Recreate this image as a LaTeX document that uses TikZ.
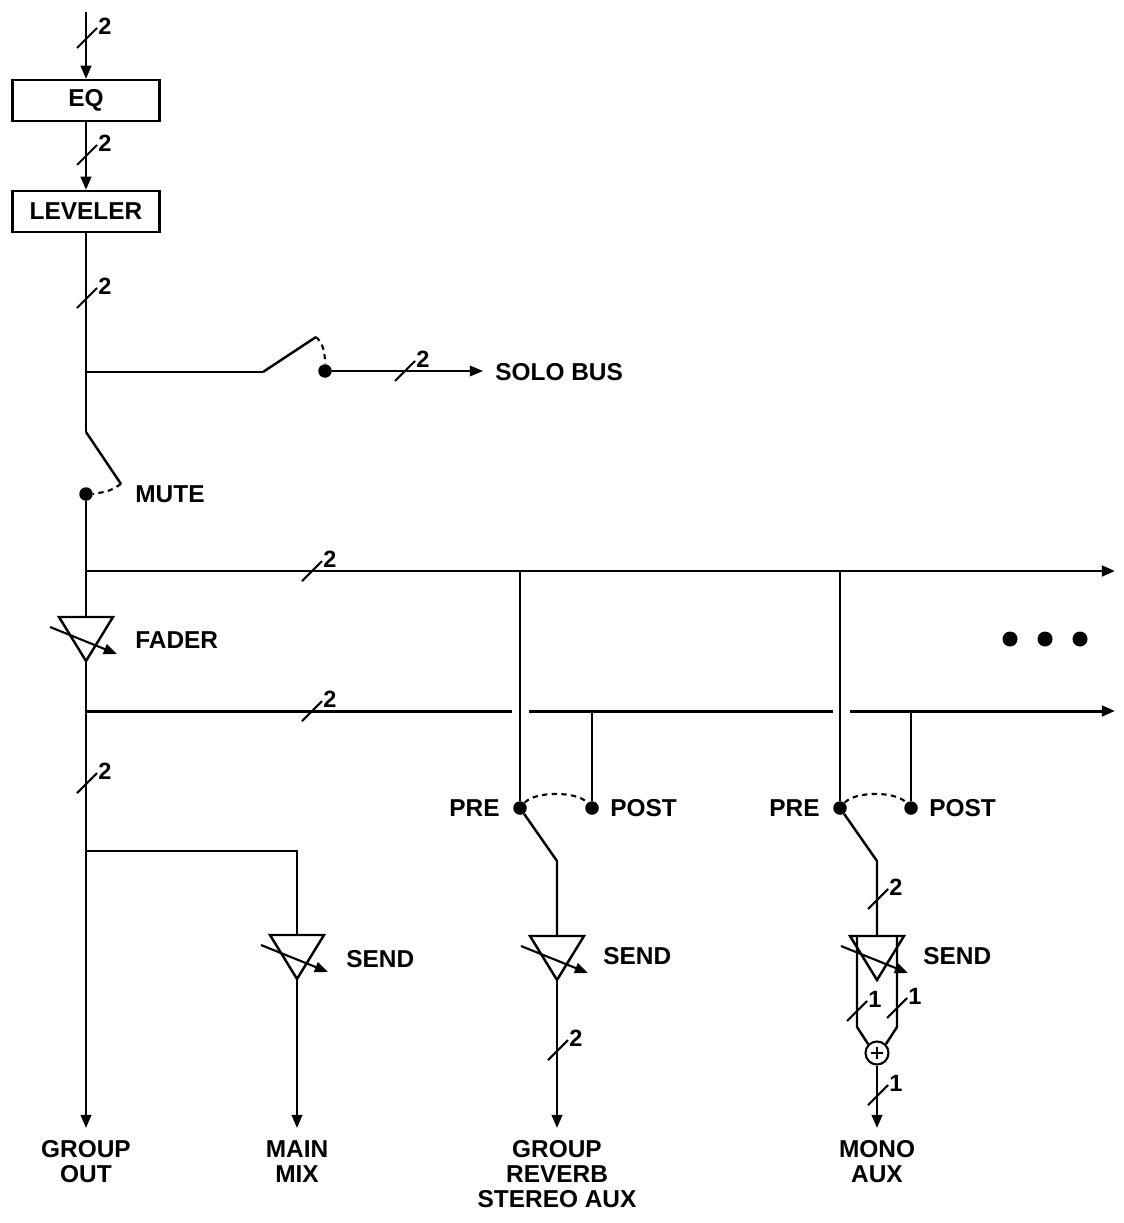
\documentclass[tikz,border=0pt]{standalone}
\usepackage{fontspec}
\setmainfont{Liberation Sans}
\usetikzlibrary{arrows.meta}
\newcommand\lblfont{\bfseries\fontsize{13.9}{14.3}\selectfont}
\newcommand\numfont{\bfseries\fontsize{13.4}{13.6}\selectfont}
\begin{document}
\begin{tikzpicture}[x=0.02cm,y=-0.02cm,
  wire/.style={line width=1.4pt},
  thin/.style={line width=1.1pt},
  bus/.style={line width=1.7pt},
  arr/.style={-{Triangle[length=7.5pt,width=6pt]}},
  blk/.style={draw,line width=1.3pt,minimum width=2.94cm,minimum height=0.82cm,inner sep=0pt,font=\lblfont},
  dot/.style={circle,fill,inner sep=0pt,minimum size=0.27cm},
  bigdot/.style={circle,fill,inner sep=0pt,minimum size=0.3cm},
  lbl/.style={font=\lblfont,inner sep=0pt},
  num/.style={font=\numfont,inner sep=0pt},
  dsh/.style={line width=1.2pt,dash pattern=on 3pt off 2.5pt},
  bm/.pic={\draw[line width=1.2pt] (-10,10) -- (10,-10); \node[num] at (18,-12) {#1};},
  vamp/.pic={
     \draw[wire,line join=miter] (-27,0) -- (27,0) -- (0,44) -- cycle;
     \draw[line width=1.2pt,-{Triangle[length=7.5pt,width=6pt]}] (-36,10) -- (31,37);
     \coordinate (-in) at (0,0); \coordinate (-out) at (0,44);}
]
\useasboundingbox (0,0) rectangle (1124,1223);

% ---- input, EQ, leveler
\coordinate (in) at (86,12);
\node[blk] (eq) at (86,100.5) {EQ};
\node[blk] (lev) at (86,211.5) {LEVELER};
\draw[wire,arr] (in) -- (eq.north);
\pic at (87,38) {bm=2};
\draw[wire,arr] (eq.south) -- (lev.north);
\pic at (87,155) {bm=2};

% ---- solo and mute
\coordinate (soloj) at (86,372);
\coordinate (mutetop) at (86,432);
\draw[wire] (lev.south) -- (mutetop);
\pic at (87,298) {bm=2};

\coordinate (soloa) at (263,372);
\coordinate (solob) at (316,337);
\node[dot] (solod) at (325,371) {};
\coordinate (soloend) at (483,371);
\node[lbl,anchor=west] (solo) at (495,372) {SOLO BUS};
\draw[thin] (soloj) -- (soloa);
\draw[wire] (soloa) -- (solob);
\draw[dsh] (solob) .. controls (323,343) and (325,352) .. (solod.north);
\draw[thin,arr] (solod) -- (soloend);
\pic at (405,371) {bm=2};

\coordinate (mutearm) at (121,484);
\node[dot] (mdot) at (86,494) {};
\node[lbl,anchor=west] (mute) at (135,494) {MUTE};
\draw[wire] (mutetop) -- (mutearm);
\draw[dsh] (mutearm) .. controls (110,491) .. (mdot.east);

% ---- fader and buses
\pic (fader) at (86,617) {vamp};
\node[lbl,anchor=west] (faderl) at (135,640) {FADER};
\draw[wire] (mdot) -- (fader-in);

\coordinate (b1s) at (86,571);
\coordinate (b1e) at (1115,571);
\draw[bus,arr] (b1s) -- (b1e);
\pic at (312,571) {bm=2};

\coordinate (b2s) at (86,711);
\coordinate (g1a) at (512,711);
\coordinate (g1b) at (529,711);
\coordinate (g2a) at (833,711);
\coordinate (g2b) at (850,711);
\coordinate (b2e) at (1115,711);
\draw[bus] (b2s) -- (g1a);
\draw[bus] (g1b) -- (g2a);
\draw[bus,arr] (g2b) -- (b2e);
\pic at (312,711) {bm=2};

\node[bigdot] (d1) at (1010,639) {};
\node[bigdot] (d2) at (1045,639) {};
\node[bigdot] (d3) at (1080,639) {};

% ---- group out
\coordinate (gout) at (86,1128);
\draw[wire,arr] (fader-out) -- (gout);
\pic at (87,783) {bm=2};
\node[lbl,align=center,anchor=north] (goutl) at (86,1140) {GROUP\\OUT};

% ---- main mix
\coordinate (mj) at (86,851);
\coordinate (mk) at (297,851);
\pic (ms) at (297,935) {vamp};
\node[lbl,anchor=west] (msl) at (346,959) {SEND};
\draw[thin] (mj) -- (mk) -- (ms-in);
\coordinate (mout) at (297,1128);
\draw[wire,arr] (ms-out) -- (mout);
\node[lbl,align=center,anchor=north] (moutl) at (297,1140) {MAIN\\MIX};

% ---- reverb stereo aux
\coordinate (r1) at (520,571);
\node[dot] (pre1) at (520,808) {};
\coordinate (p1) at (592,711);
\node[dot] (post1) at (592,808) {};
\draw[wire] (r1) -- (pre1);
\draw[wire] (p1) -- (post1);
\draw[dsh] (pre1) .. controls (535,791) and (577,791) .. (post1);
\node[lbl,anchor=east] (pre1l) at (500,808) {PRE};
\node[lbl,anchor=west] (post1l) at (610,808) {POST};
\coordinate (sw1) at (557,861);
\pic (rs) at (557,936) {vamp};
\node[lbl,anchor=west] (rsl) at (603,956) {SEND};
\draw[wire] (pre1) -- (sw1) -- (rs-in);
\coordinate (rout) at (557,1128);
\draw[wire,arr] (rs-out) -- (rout);
\pic at (558,1050) {bm=2};
\node[lbl,align=center,anchor=north] (routl) at (557,1140) {GROUP\\REVERB\\STEREO AUX};

% ---- mono aux
\coordinate (r2) at (840,571);
\node[dot] (pre2) at (840,808) {};
\coordinate (p2) at (911,711);
\node[dot] (post2) at (911,808) {};
\draw[wire] (r2) -- (pre2);
\draw[wire] (p2) -- (post2);
\draw[dsh] (pre2) .. controls (855,791) and (896,791) .. (post2);
\node[lbl,anchor=east] (pre2l) at (820,808) {PRE};
\node[lbl,anchor=west] (post2l) at (929,808) {POST};
\coordinate (sw2) at (877,861);
\pic (mas) at (877,936) {vamp};
\node[lbl,anchor=west] (masl) at (923,956) {SEND};
\draw[wire] (pre2) -- (sw2) -- (mas-in);
\pic at (878,899) {bm=2};

\node[circle,draw,line width=1.2pt,minimum size=0.46cm,inner sep=0pt] (add) at (877,1053) {};
\draw[line width=1.2pt] (871,1053) -- (883,1053) (877,1047) -- (877,1059);
\coordinate (la) at (857,936);
\coordinate (lb) at (857,1027);
\coordinate (ra) at (897,936);
\coordinate (rb) at (897,1027);
\draw[wire] (la) -- (lb) -- (add.135);
\draw[wire] (ra) -- (rb) -- (add.45);
\pic at (857,1011) {bm=1};
\pic at (897,1008) {bm=1};
\coordinate (maout) at (877,1128);
\draw[wire,arr] (add.south) -- (maout);
\pic at (878,1095) {bm=1};
\node[lbl,align=center,anchor=north] (maoutl) at (877,1140) {MONO\\AUX};
\end{tikzpicture}
\end{document}
